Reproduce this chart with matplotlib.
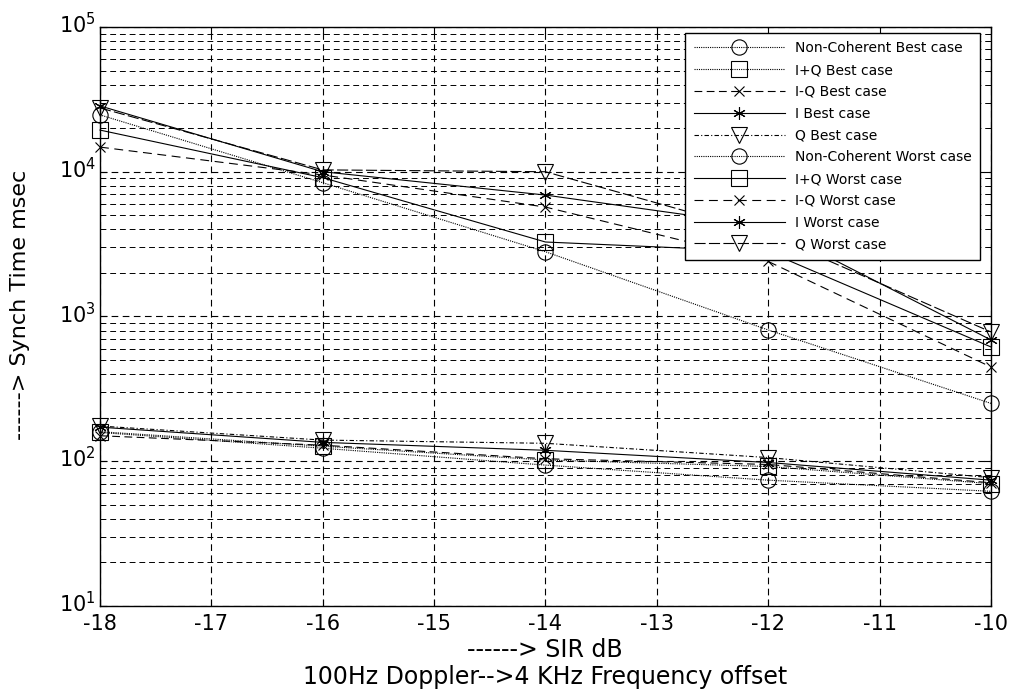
import matplotlib
matplotlib.use("Agg")
import matplotlib.pyplot as plt
from matplotlib.ticker import LogLocator
from matplotlib.transforms import ScaledTranslation

plt.rcParams['font.family'] = ['DejaVu Sans']
plt.rcParams['mathtext.fontset'] = 'dejavusans'
plt.rcParams['mathtext.default'] = 'regular'
plt.rcParams['axes.unicode_minus'] = False

sir_db = [-18, -16, -14, -12, -10]

# Best case (lower group)
nc_best = [158, 123, 94, 74, 62]
ipq_best = [160, 127, 102, 92, 70]
imq_best = [150, 129, 104, 95, 71]
i_best = [172, 135, 119, 98, 74]
q_best = [175, 140, 133, 106, 77]

# Worst case (upper group)
nc_worst = [24700, 8400, 2800, 807, 251]
ipq_worst = [19400, 9100, 3270, 2800, 616]
imq_worst = [14800, 9500, 5700, 2400, 448]
i_worst = [28500, 10000, 6900, 4200, 689]
q_worst = [27600, 10300, 10000, 3700, 782]

labels = ["Non-Coherent Best case", "I+Q Best case", "I-Q Best case", "I Best case",
          "Q Best case", "Non-Coherent Worst case", "I+Q Worst case", "I-Q Worst case",
          "I Worst case", "Q Worst case"]
series = [nc_best, ipq_best, imq_best, i_best, q_best,
          nc_worst, ipq_worst, imq_worst, i_worst, q_worst]
star = (6, 2, 0)
markers = ['o', 's', 'x', star, 'v', 'o', 's', 'x', star, 'v']
styles = [(0, (1, 1)), (0, (1, 1)), (0, (7, 4)), '-', (0, (4, 2, 1, 2)),
          (0, (1, 1)), '-', (0, (8, 5)), '-', (0, (10, 3))]
msizes = [11, 11, 7, 9, 12, 11, 11, 7, 9, 12]

fig = plt.figure(figsize=(10.12, 6.92), dpi=100)
ax = fig.add_axes([0.0988, 0.1243, 0.8804, 0.8367])

for y, lab, m, ls, ms in zip(series, labels, markers, styles, msizes):
    ax.plot(sir_db, y, color='black', linestyle=ls, linewidth=0.8, marker=m,
            markersize=ms, markerfacecolor='none', markeredgecolor='black',
            markeredgewidth=0.8, label=lab, clip_on=False, zorder=3)

ax.set_yscale('log')
ax.set_xlim(-18, -10)
ax.set_ylim(10, 1e5)
ax.set_xticks(range(-18, -9))
ax.yaxis.set_major_locator(LogLocator(base=10, numticks=10))
ax.yaxis.set_minor_locator(LogLocator(base=10, subs=range(2, 10), numticks=50))

ax.grid(True, which='major', axis='both', color='black', linestyle=(0, (6, 4)), linewidth=0.8)
ax.grid(True, which='minor', axis='y', color='black', linestyle=(0, (6, 4)), linewidth=0.7)

ax.tick_params(axis='both', which='both', direction='in', top=True, right=True,
               labelsize=15)
ax.tick_params(axis='both', which='minor', length=3)
ax.tick_params(axis='y', which='major', length=5, pad=3)
ax.tick_params(axis='x', which='major', length=5, pad=6)
for s in ax.spines.values():
    s.set_linewidth(1.0)

ax.set_xlabel("------> SIR dB\n100Hz Doppler-->4 KHz Frequency offset", fontsize=17,
              linespacing=1.15)
ax.xaxis.set_label_coords(0.4994, -0.056)
ax.set_ylabel("------> Synch Time msec", fontsize=16)
ax.yaxis.set_label_coords(-0.0786, 0.52)

leg = ax.legend(loc='upper right', fontsize=10, handlelength=6.6, handletextpad=0.7,
                labelspacing=0.56, fancybox=False, framealpha=1, edgecolor='black',
                borderpad=0.6, borderaxespad=0, bbox_to_anchor=(0.9877, 0.9896))
leg.get_frame().set_linewidth(1.0)
leg.set_zorder(5)

# lift the y tick labels slightly, as in the reference
lift = ScaledTranslation(0, 3 / 72, fig.dpi_scale_trans)
for t in ax.yaxis.get_major_ticks():
    t.label1.set_transform(t.label1.get_transform() + lift)

fig.savefig('out.png', dpi=100)
